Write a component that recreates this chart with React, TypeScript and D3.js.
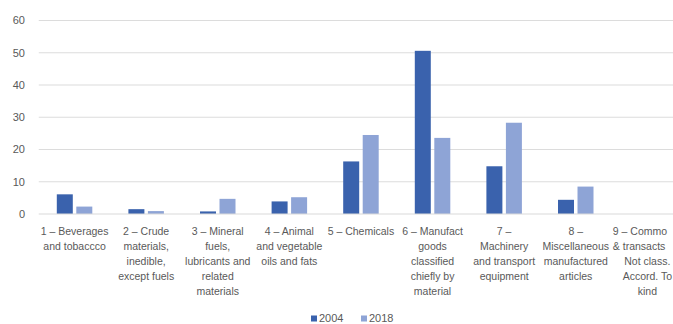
import React from "react";
import * as d3 from "d3";

const categories = ["c1", "c2", "c3", "c4", "c5", "c6", "c7", "c8", "c9"];
const categoryLabels: string[][] = [
  ["1 – Beverages", "and tobaccco"],
  ["2 – Crude", "materials,", "inedible,", "except fuels"],
  ["3 – Mineral", "fuels,", "lubricants and", "related", "materials"],
  ["4 – Animal", "and vegetable", "oils and fats"],
  ["5 – Chemicals"],
  ["6 – Manufact", "goods", "classified", "chiefly by", "material"],
  ["7 –", "Machinery", "and transport", "equipment"],
  ["8 –", "Miscellaneous", "manufactured", "articles"],
  ["9 – Commo", "& transacts", "Not class.", "Accord. To", "kind"],
];
const seriesNames = ["2004", "2018"];
const values2004 = [6.1, 1.5, 0.8, 3.9, 16.3, 50.6, 14.8, 4.4, 0];
const values2018 = [2.3, 0.9, 4.7, 5.2, 24.5, 23.6, 28.3, 8.5, 0];
const yTicks = [0, 10, 20, 30, 40, 50, 60];
const colors = ["#3a62ad", "#8ea4d6"];

export default function App() {
  const W = 673;
  const H = 324;
  const plotLeft = 38.75;
  const step = 71.6;
  const x = d3
    .scaleBand<string>()
    .domain(categories)
    .range([plotLeft, plotLeft + step * categories.length])
    .padding(0);
  const x1 = d3
    .scaleBand<string>()
    .domain(seriesNames)
    .range([-17.75, 17.75])
    .paddingInner(0.18);
  const y = d3.scaleLinear().domain([0, 60]).range([214, 20.5]);
  const series = [values2004, values2018];
  const font = "'Liberation Sans', Arial, sans-serif";
  const textColor = "#595959";

  return (
    <svg
      width={W}
      height={H}
      style={{ position: "absolute", left: 0, top: 0, background: "#fff" }}
      fontFamily={font}
    >
      {yTicks.map((t) => (
        <g key={t}>
          {t !== 0 && (
            <line
              x1={plotLeft}
              x2={W}
              y1={y(t)}
              y2={y(t)}
              stroke="#dcdcdc"
              strokeWidth={1.2}
            />
          )}
          <text
            x={25}
            y={y(t)}
            dy="0.35em"
            textAnchor="end"
            fontSize={11}
            fill={textColor}
          >
            {t}
          </text>
        </g>
      ))}
      {categories.map((c, i) => {
        const cx = (x(c) as number) + x.bandwidth() / 2;
        const overflowEdge = (x(c) as number) + x.bandwidth() > W;
        return (
          <g key={c}>
            {series.map((vals, si) => {
              const v = vals[i];
              if (v <= 0) return null;
              const bx = cx + (x1(seriesNames[si]) as number);
              return (
                <rect
                  key={si}
                  x={bx}
                  y={y(v)}
                  width={x1.bandwidth()}
                  height={y(0) - y(v)}
                  fill={colors[si]}
                />
              );
            })}
            {categoryLabels[i].map((line, li) => {
              const wide = overflowEdge && li < 2;
              return (
                <text
                  key={li}
                  x={wide ? cx - 34.5 : cx}
                  y={235 + li * 15}
                  textAnchor={wide ? "start" : "middle"}
                  fontSize={10.5}
                  fill={textColor}
                >
                  {line}
                </text>
              );
            })}
          </g>
        );
      })}
      <line
        x1={plotLeft}
        x2={W}
        y1={y(0)}
        y2={y(0)}
        stroke="#d9d9d9"
        strokeWidth={1.2}
      />
      {seriesNames.map((s, si) => {
        const lx = 311 + si * 50;
        return (
          <g key={s}>
            <rect x={lx} y={315.5} width={6} height={6} fill={colors[si]} />
            <text x={lx + 8} y={322} fontSize={11} fill={textColor}>
              {s}
            </text>
          </g>
        );
      })}
    </svg>
  );
}
